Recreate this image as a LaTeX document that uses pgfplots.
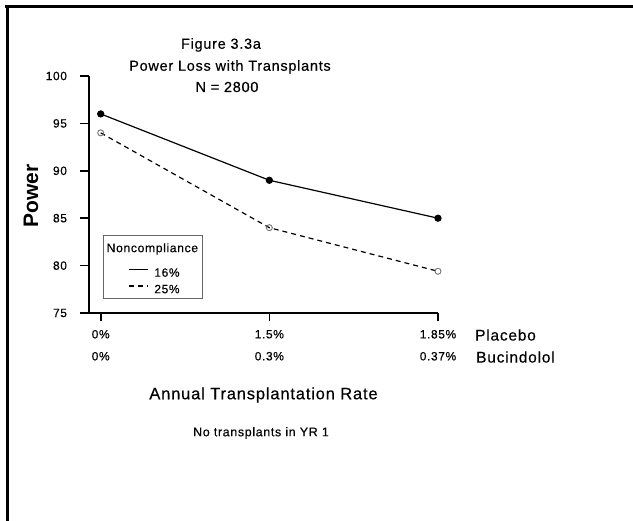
\documentclass[border=0pt]{standalone}
\usepackage{fontspec}
\setmainfont{Liberation Sans}[LetterSpace=5, FakeBold=0.4]
\newfontfamily\plainsans{Liberation Sans}
\usepackage{pgfplots}
\pgfplotsset{compat=1.18}
\begin{document}
\begin{tikzpicture}[x=1pt,y=1pt]
\path[use as bounding box] (0,0) rectangle (633,521);
\fill[black] (5,516) rectangle (633,513);
\fill[black] (5.5,0) rectangle (8.5,516);
\begin{axis}[
  at={(89pt,208pt)}, anchor=south west,
  scale only axis, width=349pt, height=237pt,
  xmin=-0.0694, xmax=2, ymin=75, ymax=100,
  axis x line*=bottom, axis y line*=left,
  axis line style={line width=2pt,-},
  xtick={0,1,2},
  xticklabels={{0\%\\0\%},{1.5\%\\0.3\%},{1.85\%\\0.37\%}},
  ytick={75,80,...,100},
  tick align=outside, major tick length=8.5pt,
  tick style={line width=1.6pt, black},
  /pgf/number format/assume math mode=true,
  yticklabel style={font=\fontsize{12}{14}\selectfont, xshift=-10pt},
  xticklabel style={font=\fontsize{12}{22}\selectfont, align=center, yshift=-5pt},
  legend style={at={(axis description cs:0.1117,0.192)}, anchor=north west,
    draw=none, fill=none, inner sep=0pt, row sep=5pt, column sep=6pt,
    font=\fontsize{12}{13}\selectfont,
    nodes={inner sep=0pt, text height=9pt, text depth=2.5pt}},
  legend cell align=left,
  legend image code/.code={\draw[#1] (0pt,4pt) -- (19pt,4pt);},
  clip=false,
]
\addplot[black, line width=1.2pt, mark=*, mark size=3pt] coordinates {(0,96) (1,89) (2,85)};
\addlegendentry{16\%}
\addplot[black, line width=1.2pt, dash pattern=on 5pt off 4pt, mark=o, mark size=3pt,
  mark options={solid, draw=black!55, line width=0.9pt, fill=white}] coordinates {(0,94) (1,84) (2,79.4)};
\addlegendentry{25\%}
\end{axis}
\draw[black!60, line width=0.9pt] (103,286) rectangle (202,223);
\node[font=\fontsize{12.2}{14}\selectfont, anchor=west, inner sep=0pt] at (106.5,272) {Noncompliance};
\node[font=\fontsize{14.5}{16}\selectfont] at (221,476) {Figure 3.3a};
\node[font=\fontsize{14.5}{16}\selectfont] at (230,454) {Power Loss with Transplants};
\node[font=\fontsize{14.5}{16}\selectfont] at (227,434) {N = 2800};
\node[font=\fontsize{15.5}{17}\selectfont, anchor=west, inner sep=0pt] at (475,186) {Placebo};
\node[font=\fontsize{15.5}{17}\selectfont, anchor=west, inner sep=0pt] at (476,164) {Bucindolol};
\node[font=\fontsize{16.5}{18}\selectfont] at (263.5,126) {Annual Transplantation Rate};
\node[font=\fontsize{12.5}{14}\selectfont] at (261,88) {No transplants in YR 1};
\node[font=\plainsans\bfseries\fontsize{21}{24}\selectfont, rotate=90] at (31,325) {Power};
\end{tikzpicture}
\end{document}
